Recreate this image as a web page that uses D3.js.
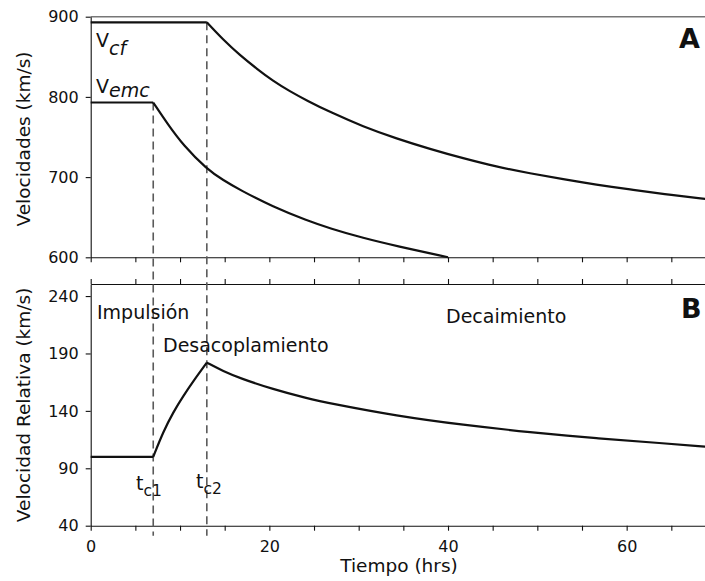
<!DOCTYPE html>
<html>
<head>
<meta charset="utf-8">
<script src="https://cdn.jsdelivr.net/npm/d3@7"></script>
<style>
  html, body { margin: 0; padding: 0; background: #fff; }
  svg { display: block; font-family: "DejaVu Sans", sans-serif; }
</style>
</head>
<body>
<svg id="chart" width="705" height="581"></svg>
<script>
// Time axis (hours) and critical times
const tickHours = d3.range(0, 70, 5);
const labelHours = [0, 20, 40, 60];
const criticalTimes = [7, 13];           // t_c1, t_c2

// Panel A: speeds (km/s)
const cfTime  = [0, 13, 14.85, 16.7, 18.6, 20.4, 22.3, 24.2, 26.8, 30.5, 34.25, 38.0, 41.7, 45.4, 49.2, 52.9, 56.6, 60.4, 64.1, 68.8];
const cfSpeed = [893, 893, 871, 852, 835, 820, 807, 795.5, 781, 763, 748, 735, 723.4, 713, 704.7, 697.3, 690.5, 684.5, 679, 672.7];
const emcTime  = [0, 7, 8.5, 10.4, 13, 14.85, 16.7, 20.4, 24.2, 26.8, 30.5, 34.25, 40];
const emcSpeed = [793, 793, 768, 739, 710, 696, 684, 663, 646, 636, 624, 614, 600];
const speedTicks = [600, 700, 800, 900];

// Panel B: relative speed (km/s)
const relTime  = [0, 7, 8.13, 9.25, 10.37, 11.5, 13, 14.85, 16.7, 20.4, 24.2, 26.8, 34.25, 41.7, 49.2, 56.6, 64.1, 68.8];
const relSpeed = [100, 100, 122, 139, 153, 166, 182, 174.5, 168.5, 158.8, 151, 146.5, 135.6, 127.7, 121.4, 116.1, 111.8, 108.8];
const relTicks = [40, 90, 140, 190, 240];

const svg = d3.select("#chart");

const x  = d3.scaleLinear().domain([0, 68.77]).range([90.7, 705]);
const yA = d3.scaleLinear().domain([600, 900]).range([257.3, 16.7]);
const yB = d3.scaleLinear().domain([40, 250.5]).range([525.7, 284]);

const ink = "#111";

function zip(ts, vs) { return ts.map((t, i) => ({ t, v: vs[i] })); }

// split a series into pieces at the given break times (kinks stay sharp)
function pieces(data, breaks) {
  const out = [];
  let cur = [];
  data.forEach(d => {
    cur.push(d);
    if (breaks.includes(d.t) && cur.length > 1) { out.push(cur); cur = [d]; }
  });
  if (cur.length > 1) out.push(cur);
  return out;
}

function drawSeries(data, y, breaks) {
  const line = d3.line().x(d => x(d.t)).y(d => y(d.v)).curve(d3.curveBasis);
  pieces(data, breaks).forEach(seg => {
    svg.append("path").datum(seg)
      .attr("d", line)
      .attr("fill", "none")
      .attr("stroke", ink)
      .attr("stroke-width", 2.2)
      .attr("stroke-linejoin", "round");
  });
}

function styleAxis(g) {
  g.selectAll(".domain").attr("stroke", ink).attr("stroke-width", 1.1);
  g.selectAll(".tick line").attr("stroke", ink).attr("stroke-width", 1.1);
  g.selectAll(".tick text").attr("fill", "#111").attr("font-size", 16)
    .attr("font-family", "DejaVu Sans");
}

// ---- Panel A axes ----
svg.append("line")
  .attr("x1", x(0)).attr("x2", x(68.77))
  .attr("y1", yA(900)).attr("y2", yA(900))
  .attr("stroke", "#777").attr("stroke-width", 1.5);

svg.append("g").attr("transform", `translate(${x(0)},0)`)
  .call(d3.axisLeft(yA).tickValues(speedTicks).tickSize(5).tickSizeOuter(0).tickPadding(7))
  .call(styleAxis);

svg.append("g").attr("transform", `translate(0,${yA(600)})`)
  .call(d3.axisBottom(x).tickValues(tickHours).tickSize(5).tickSizeOuter(0).tickFormat(""))
  .call(styleAxis);

// ---- Panel B axes ----
svg.append("g").attr("transform", `translate(0,${yB(250.5)})`)
  .call(d3.axisTop(x).tickValues(tickHours).tickSize(5).tickSizeOuter(0).tickFormat(""))
  .call(styleAxis);

svg.append("g").attr("transform", `translate(${x(0)},0)`)
  .call(d3.axisLeft(yB).tickValues(relTicks).tickSize(5).tickSizeOuter(0).tickPadding(7))
  .call(styleAxis);

svg.append("g").attr("transform", `translate(0,${yB(40)})`)
  .call(d3.axisBottom(x).tickValues(tickHours).tickSize(5).tickSizeOuter(0).tickPadding(10)
    .tickFormat(d => labelHours.includes(d) ? d : ""))
  .call(styleAxis);

// ---- critical-time dashed markers ----
const markerTop = [yA(emcSpeed[1]), yA(cfSpeed[1])];
criticalTimes.forEach((t, i) => {
  svg.append("line")
    .attr("x1", x(t)).attr("x2", x(t))
    .attr("y1", markerTop[i]).attr("y2", yB(40) + 10)
    .attr("stroke", "#5a5a5a").attr("stroke-width", 1.6)
    .attr("stroke-dasharray", "8,5");
});

// ---- curves ----
drawSeries(zip(cfTime, cfSpeed), yA, [13]);
drawSeries(zip(emcTime, emcSpeed), yA, [7]);
drawSeries(zip(relTime, relSpeed), yB, [7, 13]);

// ---- text ----
function label(xp, yp, parts, opts = {}) {
  const t = svg.append("text").attr("x", xp).attr("y", yp)
    .attr("font-size", opts.size || 19).attr("fill", "#111");
  parts.forEach(p => {
    const s = t.append("tspan").text(p.text);
    if (p.dy) s.attr("dy", p.dy);
    if (p.italic) s.attr("font-style", "italic");
    if (p.size) s.attr("font-size", p.size);
  });
  if (opts.weight) t.attr("font-weight", opts.weight);
  return t;
}

label(96, 47, [{ text: "V" }, { text: "cf", dy: 8, italic: true }], { size: 19 });
label(96, 93, [{ text: "V" }, { text: "emc", dy: 4, italic: true }], { size: 19 });

label(679, 48, [{ text: "A" }], { size: 27, weight: "bold" });
label(681, 318, [{ text: "B" }], { size: 27, weight: "bold" });

label(97, 319, [{ text: "Impulsión" }]);
label(163, 352, [{ text: "Desacoplamiento" }]);
label(446, 323, [{ text: "Decaimiento" }]);

label(136, 490, [{ text: "t" }, { text: "c1", dy: 6, size: 15.5 }]);
label(196, 488, [{ text: "t" }, { text: "c2", dy: 6, size: 15.5 }]);

// axis titles
svg.append("text")
  .attr("transform", `translate(30,${(yA(600) + yA(900)) / 2 + 2}) rotate(-90)`)
  .attr("text-anchor", "middle").attr("font-size", 18.5).attr("fill", "#111")
  .text("Velocidades (km/s)");

svg.append("text")
  .attr("transform", `translate(30,${(yB(40) + yB(250.5)) / 2}) rotate(-90)`)
  .attr("text-anchor", "middle").attr("font-size", 18.5).attr("fill", "#111")
  .text("Velocidad Relativa (km/s)");

svg.append("text")
  .attr("x", 399).attr("y", 572)
  .attr("text-anchor", "middle").attr("font-size", 18.5).attr("fill", "#111")
  .text("Tiempo (hrs)");
</script>
</body>
</html>
